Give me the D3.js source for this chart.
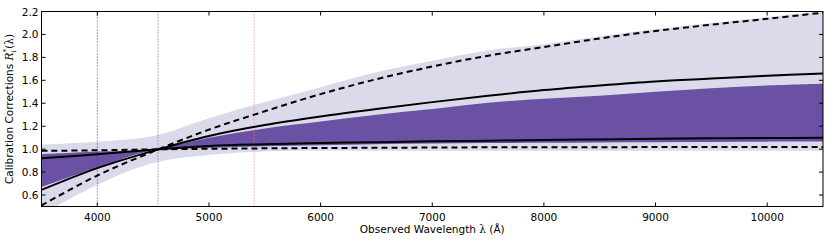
<!DOCTYPE html>
<html>
<head>
<meta charset="utf-8">
<script src="https://cdn.jsdelivr.net/npm/d3@7"></script>
<style>
  body { margin: 0; background: #fff; }
</style>
</head>
<body>
<script>
var wave = [3500, 4000, 4500, 5000, 5500, 6000, 6500, 7000, 7500, 8000, 8500, 9000, 9500, 10000, 10500];

var upperDashed = [0.51, 0.77, 0.98, 1.17, 1.33, 1.48, 1.61, 1.72, 1.815, 1.89, 1.965, 2.03, 2.085, 2.136, 2.19];
var upperSolid  = [0.645, 0.835, 0.985, 1.115, 1.21, 1.285, 1.35, 1.41, 1.465, 1.515, 1.555, 1.59, 1.615, 1.64, 1.66];
var lowerSolid  = [0.92, 0.956, 0.995, 1.028, 1.043, 1.053, 1.061, 1.068, 1.074, 1.08, 1.085, 1.09, 1.094, 1.097, 1.10];
var lowerDashed = [0.985, 0.99, 0.998, 1.003, 1.007, 1.01, 1.012, 1.014, 1.016, 1.017, 1.017, 1.018, 1.018, 1.018, 1.018];

var lightLo = [0.43, 0.69, 0.88, 0.95, 0.98, 0.985, 0.985, 0.985, 0.985, 0.985, 0.985, 0.985, 0.985, 0.985, 0.985];
var lightHi = [1.04, 1.065, 1.115, 1.27, 1.41, 1.54, 1.67, 1.77, 1.86, 1.915, 1.985, 2.045, 2.10, 2.15, 2.205];
var darkLo  = [0.67, 0.84, 0.99, 1.01, 1.025, 1.035, 1.043, 1.05, 1.053, 1.056, 1.059, 1.061, 1.063, 1.065, 1.066];
var darkHi  = [0.957, 0.98, 1.0, 1.10, 1.18, 1.24, 1.30, 1.35, 1.405, 1.44, 1.465, 1.50, 1.53, 1.555, 1.57];

// reference lines
var refLines = [
  {x: 4000, color: "#3333dd"},
  {x: 4543, color: "#666666"},
  {x: 5405, color: "#f08080"}
];

var xTicks = [4000, 5000, 6000, 7000, 8000, 9000, 10000];
var yTicks = [0.6, 0.8, 1.0, 1.2, 1.4, 1.6, 1.8, 2.0, 2.2];

var W = 830, H = 244;
var margin = {top: 11.5, right: 7, bottom: 37.5, left: 41.5};
var width = W - margin.left - margin.right,
    height = H - margin.top - margin.bottom;

var svg = d3.select("body").append("svg")
    .attr("width", W)
    .attr("height", H)
    .attr("font-family", "DejaVu Sans");

var g = svg.append("g")
    .attr("transform", "translate(" + margin.left + "," + margin.top + ")");

var x = d3.scaleLinear().domain([3500, 10500]).range([0, width]);
var y = d3.scaleLinear().domain([0.5, 2.2]).range([height, 0]);

g.append("clipPath").attr("id", "clip")
  .append("rect").attr("width", width).attr("height", height);

var plot = g.append("g").attr("clip-path", "url(#clip)");

var curve = d3.curveCatmullRom.alpha(0.5);

function band(lo, hi) {
    return d3.area()
        .x(function(d, i) { return x(wave[i]); })
        .y0(function(d, i) { return y(lo[i]); })
        .y1(function(d, i) { return y(hi[i]); })
        .curve(curve)(wave);
}

function line(vals) {
    return d3.line()
        .x(function(d, i) { return x(wave[i]); })
        .y(function(d, i) { return y(vals[i]); })
        .curve(curve)(wave);
}

plot.append("path").attr("d", band(lightLo, lightHi)).style("fill", "#dadaeb");
plot.append("path").attr("d", band(darkLo, darkHi)).style("fill", "#6a51a3");

refLines.forEach(function(r) {
    plot.append("line")
        .attr("x1", x(r.x)).attr("x2", x(r.x))
        .attr("y1", 0).attr("y2", height)
        .style("stroke", r.color)
        .style("stroke-width", 1)
        .style("stroke-dasharray", "1,2");
});

[upperSolid, lowerSolid].forEach(function(v) {
    plot.append("path").attr("d", line(v))
        .style("fill", "none").style("stroke", "#000").style("stroke-width", 2);
});
[upperDashed, lowerDashed].forEach(function(v) {
    plot.append("path").attr("d", line(v))
        .style("fill", "none").style("stroke", "#000").style("stroke-width", 2)
        .style("stroke-dasharray", "6,4");
});

// frame
g.append("rect")
    .attr("width", width).attr("height", height)
    .style("fill", "none").style("stroke", "#000").style("stroke-width", 1);

// ticks, pointing inward on all four sides
var tickLen = 4;
xTicks.forEach(function(t) {
    g.append("line").attr("x1", x(t)).attr("x2", x(t))
        .attr("y1", height).attr("y2", height - tickLen)
        .style("stroke", "#000");
    g.append("line").attr("x1", x(t)).attr("x2", x(t))
        .attr("y1", 0).attr("y2", tickLen)
        .style("stroke", "#000");
    g.append("text")
        .attr("x", x(t)).attr("y", height + 14)
        .attr("text-anchor", "middle")
        .style("font-size", "10.5px")
        .text(t);
});
yTicks.forEach(function(t) {
    g.append("line").attr("x1", 0).attr("x2", tickLen)
        .attr("y1", y(t)).attr("y2", y(t))
        .style("stroke", "#000");
    g.append("line").attr("x1", width).attr("x2", width - tickLen)
        .attr("y1", y(t)).attr("y2", y(t))
        .style("stroke", "#000");
    g.append("text")
        .attr("x", -3).attr("y", y(t) + 4)
        .attr("text-anchor", "end")
        .style("font-size", "10.5px")
        .text(t.toFixed(1));
});

// axis labels
var xl = g.append("text")
    .attr("x", width / 2).attr("y", height + 26)
    .attr("text-anchor", "middle")
    .style("font-size", "10.5px");
xl.append("tspan").text("Observed Wavelength ");
xl.append("tspan").attr("font-family", "DejaVu Serif").text("λ");
xl.append("tspan").text(" (Å)");

var yl = g.append("text")
    .attr("transform", "translate(" + (-29) + "," + (height / 2) + ") rotate(-90)")
    .attr("text-anchor", "middle")
    .style("font-size", "10.5px");
yl.append("tspan").text("Calibration Corrections ");
yl.append("tspan").attr("font-family", "DejaVu Serif").style("font-style", "italic").text("R");
yl.append("tspan").attr("dy", 3).style("font-size", "7px")
    .attr("font-family", "DejaVu Serif").style("font-style", "italic").text("i");
yl.append("tspan").attr("dy", -8).attr("dx", -2).style("font-size", "7px").text("*");
yl.append("tspan").attr("dy", 5).attr("font-family", "DejaVu Serif").text("(λ)");
</script>
</body>
</html>
